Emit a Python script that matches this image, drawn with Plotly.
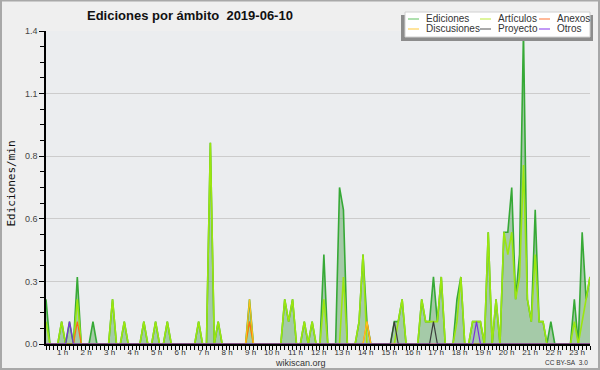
import plotly.graph_objects as go

# ---------------- data (edits per minute, 10-minute buckets from 00:00) ----------------
bucket_minutes = 10

ediciones = [
    0.2, 0, 0, 0, 0.1, 0, 0.1, 0, 0.3, 0, 0, 0,
    0.1, 0, 0, 0, 0, 0.2, 0, 0, 0.1, 0, 0, 0,
    0, 0.1, 0, 0, 0.1, 0, 0, 0.1, 0, 0, 0, 0,
    0, 0, 0, 0.1, 0, 0, 0.9, 0, 0.1, 0, 0, 0,
    0, 0, 0, 0, 0.2, 0, 0, 0, 0, 0, 0, 0,
    0, 0.2, 0.1, 0.2, 0, 0, 0.1, 0, 0.1, 0, 0, 0.4,
    0, 0, 0, 0.7, 0.6, 0, 0, 0, 0.1, 0.4, 0.1, 0,
    0, 0, 0, 0, 0, 0.1, 0.1, 0.2, 0, 0, 0, 0,
    0.2, 0.1, 0.1, 0.3, 0.1, 0.3, 0, 0, 0, 0.2, 0.3, 0,
    0, 0.1, 0.1, 0.1, 0, 0.5, 0, 0.2, 0, 0.5, 0.5, 0.7,
    0.2, 0.4, 1.4, 0.2, 0.1, 0.6, 0.1, 0.1, 0, 0.1, 0, 0,
    0, 0, 0, 0.2, 0, 0.5, 0.2, 0.3,
]

articulos = [
    0.1, 0, 0, 0, 0.1, 0, 0, 0, 0.2, 0, 0, 0,
    0, 0, 0, 0, 0, 0.2, 0, 0, 0.1, 0, 0, 0,
    0, 0.1, 0, 0, 0.1, 0, 0, 0.1, 0, 0, 0, 0,
    0, 0, 0, 0.1, 0, 0, 0.9, 0, 0.1, 0, 0, 0,
    0, 0, 0, 0, 0.1, 0, 0, 0, 0, 0, 0, 0,
    0, 0.2, 0.1, 0.2, 0, 0, 0.1, 0, 0.1, 0, 0, 0.2,
    0, 0, 0, 0, 0.3, 0, 0, 0, 0.1, 0.4, 0, 0,
    0, 0, 0, 0, 0, 0, 0.1, 0.2, 0, 0, 0, 0,
    0.2, 0.1, 0.1, 0.1, 0.1, 0.3, 0, 0, 0, 0.1, 0.3, 0,
    0, 0.1, 0.1, 0.1, 0, 0.5, 0, 0.2, 0, 0.5, 0.4, 0.5,
    0.2, 0.3, 0.8, 0.2, 0.1, 0.4, 0.1, 0.1, 0, 0, 0, 0,
    0, 0, 0, 0.1, 0, 0.1, 0.2, 0.3,
]

# sparse series: bucket index -> value
anexos_idx, anexos_val = [8, 52, 82], [0.1, 0.1, 0.1]
discusiones_idx, discusiones_val = [52, 82], [0.2, 0.1]
proyecto_idx, proyecto_val = [89, 99], [0.1, 0.1]
otros_idx, otros_val = [6, 110], [0.1, 0.1]

hour_ticks = list(range(1, 24))
hour_labels = [f"{h} h" for h in hour_ticks]
y_ticks = [0, 0.28, 0.56, 0.84, 1.12, 1.4]
y_labels = ["0.0", "0.3", "0.6", "0.8", "1.1", "1.4"]

series_names = ["Ediciones", "Artículos", "Anexos", "Discusiones", "Proyecto", "Otros"]
series_colors = ["#36a936", "#9be60f", "#ff6a1a", "#ffc21a", "#3c3c3c", "#7a2fe0"]
legend_colors = ["#7acb7a", "#c9ee5a", "#ff8a55", "#ffd25a", "#707070", "#9a55f0"]

# ---------------- build ----------------
n = len(ediciones)
hours = [i * bucket_minutes / 60 for i in range(n)]


def expand(idx, val):
    out = [0.0] * n
    for i, v in zip(idx, val):
        out[i] = v
    return out


series_values = [
    ediciones,
    articulos,
    expand(anexos_idx, anexos_val),
    expand(discusiones_idx, discusiones_val),
    expand(proyecto_idx, proyecto_val),
    expand(otros_idx, otros_val),
]

W, H = 600, 370
ML, MR, MT, MB = 46, 10, 31, 26
PW, PH = W - ML - MR, H - MT - MB


def px(x):
    return (x - ML) / PW


def py(y):
    return (H - MB - y) / PH


fig = go.Figure()
for k, (name, vals, col) in enumerate(zip(series_names, series_values, series_colors)):
    fig.add_trace(go.Scatter(
        x=hours, y=vals, name=name, mode="lines",
        line=dict(color=col, width=1.6 if k < 2 else 1.2),
        fill="tozeroy" if k == 0 else None,
        fillcolor="rgba(70,155,70,0.42)" if k == 0 else None,
        showlegend=False, hoverinfo="skip",
    ))

FONT = "Liberation Sans, Arial, sans-serif"

fig.update_layout(
    width=W, height=H,
    margin=dict(l=ML, r=MR, t=MT, b=MB, pad=0),
    paper_bgcolor="#efefef",
    plot_bgcolor="#ebedef",
    showlegend=False,
    font=dict(family=FONT, size=9, color="#333333"),
)

fig.update_xaxes(
    range=[0, hours[-1]], automargin=False,
    tickmode="array", tickvals=hour_ticks, ticktext=hour_labels,
    ticks="outside", ticklen=4, tickwidth=1, tickcolor="#000000",
    ticklabelposition="outside left", tickangle=0,
    tickfont=dict(family=FONT, size=8, color="#333333"),
    minor=dict(dtick=bucket_minutes / 60, tick0=0, ticks="outside", ticklen=4,
               tickcolor="#000000", tickwidth=1, showgrid=False),
    showline=True, linecolor="#000000", linewidth=1.5,
    showgrid=False, zeroline=False, fixedrange=True,
)
fig.update_yaxes(
    range=[0, 1.4], automargin=False,
    tickmode="array", tickvals=y_ticks, ticktext=y_labels,
    ticks="outside", ticklen=5, tickwidth=1, tickcolor="#000000",
    tickfont=dict(family=FONT, size=9, color="#444444"),
    minor=dict(dtick=0.07, tick0=0, ticks="outside", ticklen=4,
               tickcolor="#000000", tickwidth=1, showgrid=False),
    showline=True, linecolor="#000000", linewidth=1.5,
    showgrid=True, gridcolor="#cccccc", gridwidth=1,
    zeroline=False, fixedrange=True,
)

shapes = []
annotations = []

# outer frame
shapes.append(dict(type="rect", xref="paper", yref="paper",
                   x0=px(1), x1=px(W - 1), y0=py(H - 1), y1=py(0.5),
                   line=dict(color="#a8a8a8", width=2), fillcolor="rgba(0,0,0,0)",
                   layer="above"))

# legend box with shadow
shapes.append(dict(type="rect", xref="paper", yref="paper",
                   x0=px(401), x1=px(593), y0=py(41), y1=py(15),
                   line=dict(width=0), fillcolor="#8c8c8c", layer="above"))
shapes.append(dict(type="rect", xref="paper", yref="paper",
                   x0=px(405), x1=px(590), y0=py(37), y1=py(12),
                   line=dict(color="#d0d0d0", width=1), fillcolor="#ffffff", layer="above"))

leg_cols = [(408, 424), (480, 496), (539, 555)]
leg_rows = [19, 29]
for k, (name, col) in enumerate(zip(series_names, legend_colors)):
    r, c = divmod(k, 3)
    lx0, tx = leg_cols[c]
    yy = leg_rows[r]
    shapes.append(dict(type="line", xref="paper", yref="paper",
                       x0=px(lx0), x1=px(lx0 + 11), y0=py(yy), y1=py(yy),
                       line=dict(color=col, width=1.2), layer="above"))
    annotations.append(dict(text=name, xref="paper", yref="paper",
                            x=px(tx), y=py(yy), xanchor="left", yanchor="middle",
                            showarrow=False,
                            font=dict(family=FONT, size=10, color="#333333")))

# title
annotations.append(dict(text="<b>Ediciones por ámbito\u00a0\u00a02019-06-10</b>",
                        xref="paper", yref="paper", x=px(85), y=py(15),
                        xanchor="left", yanchor="middle", showarrow=False,
                        font=dict(family=FONT, size=13, color="#111111")))
# y-axis title
annotations.append(dict(text="Ediciones/min", xref="paper", yref="paper",
                        x=px(10.5), y=py(184), xanchor="center", yanchor="middle",
                        textangle=-90, showarrow=False,
                        font=dict(family="DejaVu Sans Mono, monospace", size=11, color="#111111")))
# footer
annotations.append(dict(text="wikiscan.org", xref="paper", yref="paper",
                        x=px(300), y=py(362.5), xanchor="center", yanchor="middle",
                        showarrow=False, font=dict(family=FONT, size=9, color="#333333")))
annotations.append(dict(text="CC BY-SA\u00a0\u00a03.0", xref="paper", yref="paper",
                        x=px(589.5), y=py(362.5), xanchor="right", yanchor="middle",
                        showarrow=False, font=dict(family=FONT, size=6.5, color="#333333")))

fig.update_layout(shapes=shapes, annotations=annotations)

fig.write_html(
    "out.html",
    config={"displayModeBar": False},
    post_script="document.body.style.margin='0';document.body.style.overflow='hidden';",
)
